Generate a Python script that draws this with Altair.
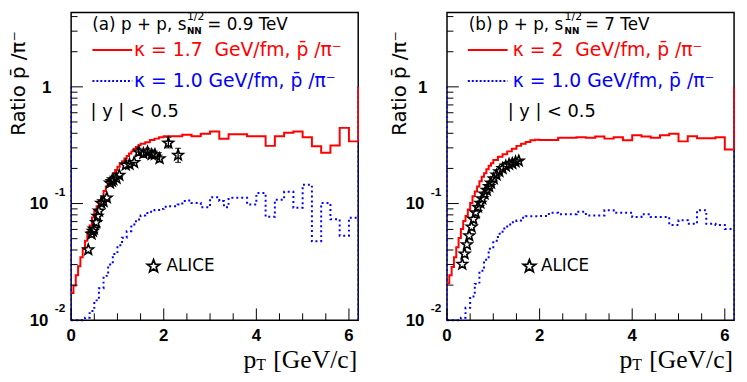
import math
import altair as alt
import pandas as pd

# ---------------- data ----------------
red_a_x = [0.00, 0.05, 0.10, 0.15, 0.20, 0.25, 0.30, 0.35, 0.40, 0.45, 0.50, 0.55, 0.60, 0.65, 0.70,
           0.75, 0.80, 0.85, 0.90, 0.95, 1.00, 1.05, 1.10, 1.15, 1.20, 1.25, 1.30, 1.35, 1.40, 1.45,
           1.50, 1.60, 1.70, 1.80, 1.90, 2.00, 2.20, 2.40, 2.60, 2.80, 3.00, 3.20, 3.40, 3.60, 3.80,
           4.00, 4.20, 4.40, 4.60, 4.80, 5.00, 5.20, 5.40, 5.60, 5.80, 6.00, 6.20]
red_a_y = [0.0171, 0.0198, 0.0243, 0.029, 0.0347, 0.041, 0.048, 0.057, 0.065, 0.076, 0.086, 0.095, 0.105,
           0.115, 0.128, 0.140, 0.155, 0.165, 0.182, 0.194, 0.207, 0.220, 0.230, 0.243, 0.256, 0.268,
           0.280, 0.295, 0.305, 0.316, 0.325, 0.335, 0.350, 0.360, 0.370, 0.378, 0.378, 0.388, 0.378,
           0.396, 0.415, 0.359, 0.392, 0.392, 0.378, 0.378, 0.312, 0.378, 0.404, 0.415, 0.370, 0.310,
           0.272, 0.315, 0.445, 0.341, 0.341]

blue_a_x = [0.0, 0.1, 0.2, 0.3, 0.4, 0.5, 0.6, 0.7, 0.8, 0.9, 1.0, 1.1, 1.2, 1.3, 1.4, 1.5, 1.6, 1.7,
            1.8, 1.9, 2.0, 2.1, 2.2, 2.3, 2.4, 2.5, 2.6, 2.7, 2.8, 2.9, 3.0, 3.1, 3.2, 3.3, 3.4, 3.6,
            3.8, 4.0, 4.2, 4.4, 4.6, 4.8, 5.0, 5.2, 5.4, 5.6, 5.8, 6.0, 6.2]
blue_a_y = [0.01, 0.01, 0.01, 0.0105, 0.012, 0.0148, 0.0188, 0.024, 0.030, 0.037, 0.044, 0.051, 0.058,
            0.066, 0.073, 0.079, 0.083, 0.085, 0.088, 0.090, 0.094, 0.095, 0.095, 0.098, 0.105, 0.106,
            0.101, 0.101, 0.093, 0.093, 0.113, 0.113, 0.105, 0.093, 0.112, 0.112, 0.098, 0.123, 0.077,
            0.108, 0.126, 0.092, 0.145, 0.0475, 0.101, 0.0734, 0.053, 0.0757, 0.0757]

red_b_x = [0.00, 0.05, 0.10, 0.15, 0.20, 0.25, 0.30, 0.35, 0.40, 0.45, 0.50, 0.55, 0.60, 0.65, 0.70,
           0.75, 0.80, 0.85, 0.90, 0.95, 1.0, 1.1, 1.2, 1.3, 1.4, 1.5, 1.6, 1.7, 1.8, 1.9, 2.0, 2.2,
           2.4, 2.6, 2.8, 3.0, 3.2, 3.4, 3.6, 3.8, 4.0, 4.2, 4.4, 4.6, 4.8, 5.0, 5.2, 5.4, 5.6, 5.8,
           6.0, 6.2]
red_b_y = [0.0207, 0.0243, 0.0286, 0.0347, 0.0422, 0.0507, 0.0604, 0.071, 0.0782, 0.089, 0.101, 0.1156,
           0.127, 0.140, 0.155, 0.170, 0.182, 0.197, 0.211, 0.221, 0.236, 0.252, 0.265, 0.280, 0.295,
           0.312, 0.326, 0.337, 0.348, 0.352, 0.350, 0.350, 0.366, 0.366, 0.370, 0.366, 0.376, 0.360,
           0.370, 0.348, 0.384, 0.376, 0.366, 0.384, 0.396, 0.341, 0.378, 0.363, 0.363, 0.370, 0.290,
           0.290]

blue_b_x = [0.0, 0.1, 0.2, 0.3, 0.4, 0.5, 0.6, 0.7, 0.8, 0.9, 1.0, 1.1, 1.2, 1.3, 1.4, 1.5, 1.6, 1.7,
            1.8, 1.9, 2.0, 2.2, 2.4, 2.6, 2.8, 3.0, 3.2, 3.4, 3.6, 3.8, 4.0, 4.2, 4.4, 4.6, 4.8, 5.0,
            5.2, 5.4, 5.6, 5.8, 6.0, 6.2]
blue_b_y = [0.01, 0.01, 0.01, 0.0105, 0.0128, 0.016, 0.0205, 0.0265, 0.033, 0.041, 0.048, 0.055, 0.061,
            0.066, 0.069, 0.0715, 0.0755, 0.078, 0.078, 0.078, 0.0782, 0.0834, 0.081, 0.081, 0.085,
            0.079, 0.079, 0.0875, 0.0834, 0.0834, 0.0767, 0.081, 0.0767, 0.0767, 0.0656, 0.072, 0.067,
            0.0875, 0.067, 0.0656, 0.0604, 0.0604]

alice_a_x = [0.37, 0.44, 0.47, 0.49, 0.54, 0.57, 0.60, 0.65, 0.70, 0.77, 0.84, 0.88, 0.91, 0.98, 1.04,
             1.18, 1.26, 1.36, 1.46, 1.56, 1.65, 1.74, 1.81, 1.91, 2.10, 2.31]
alice_a_y = [0.0402, 0.0548, 0.058, 0.0605, 0.0688, 0.078, 0.0863, 0.101, 0.104, 0.112, 0.150, 0.155,
             0.160, 0.165, 0.175, 0.214, 0.217, 0.225, 0.277, 0.268, 0.277, 0.263, 0.263, 0.243, 0.330,
             0.260]
alice_a_lo = [None] * 18 + [0.258, 0.250, 0.258, 0.246, 0.246, 0.227, 0.300, 0.225]
alice_a_hi = [None] * 18 + [0.297, 0.287, 0.297, 0.281, 0.281, 0.260, 0.370, 0.297]

alice_b_x = [0.33, 0.38, 0.43, 0.48, 0.53, 0.57, 0.62, 0.67, 0.72, 0.76, 0.81, 0.86, 0.91, 0.95, 1.01,
             1.07, 1.13, 1.20, 1.27, 1.34, 1.41, 1.48, 1.55]
alice_b_y = [0.0302, 0.0371, 0.0445, 0.053, 0.063, 0.0734, 0.0834, 0.0933, 0.101, 0.110, 0.121, 0.130,
             0.140, 0.150, 0.163, 0.176, 0.188, 0.200, 0.210, 0.217, 0.220, 0.228, 0.232]

y_major = [0.01, 0.1, 1.0]
y_minor = [0.02, 0.03, 0.04, 0.05, 0.06, 0.07, 0.08, 0.09,
           0.2, 0.3, 0.4, 0.5, 0.6, 0.7, 0.8, 0.9, 2.0, 3.0, 4.0]
x_major = [0, 2, 4, 6]
x_minor = [0.5, 1.0, 1.5, 2.5, 3.0, 3.5, 4.5, 5.0, 5.5]
x_labels = ["0", "2", "4", "6"]
y_label_vals = [1.0, 0.1, 0.01]
y_label_base = ["1", "10", "10"]
y_label_exp = ["", "-1", "-2"]

# ---------------- layout ----------------
W = 291
H = 312
XMAX = 6.2
YMAX = 4.34
ANN = "DejaVu Sans"
LAB = "Liberation Sans"
SERIF = "Liberation Serif"
RED = "#ff0000"
BLUE = "#0000ff"
NB = "\u00a0"

pts = []
for k in range(10):
    r = 1.0 if k % 2 == 0 else 0.42
    a = math.radians(36 * k)
    pts.append((r * math.sin(a), -r * math.cos(a)))
STAR = "M" + "L".join(f"{px:.3f},{py:.3f}" for px, py in pts) + "Z"

xs = alt.Scale(domain=[0, XMAX], nice=False, zero=False)
ys = alt.Scale(type="log", domain=[0.01, YMAX], nice=False)


def X(f):
    return alt.X(f, type="quantitative", scale=xs, axis=None)


def Y(f):
    return alt.Y(f, type="quantitative", scale=ys, axis=None)


def ann(x, y, s, size, color="black", align="left", baseline="middle", font=ANN, weight="normal"):
    return alt.Chart(pd.DataFrame({"x": [x], "y": [y], "t": [s]})).mark_text(
        align=align, baseline=baseline, fontSize=size, font=font, fontWeight=weight, color=color
    ).encode(x=X("x"), y=Y("y"), text="t:N")


def ann_ypx(x, ypx, s, size, align="left", baseline="alphabetic", font=ANN, weight="normal"):
    return alt.Chart(pd.DataFrame({"x": [x], "t": [s]})).mark_text(
        align=align, baseline=baseline, fontSize=size, font=font, fontWeight=weight, color="black"
    ).encode(x=X("x"), y=alt.value(ypx), text="t:N")


def panel(rx, ry, bx, by, ax, ay, alo, ahi, p):
    layers = []
    # histogram edges along the frame
    edges = pd.DataFrame({"x": [0.0, XMAX], "y1": [0.01, 0.01], "y2": [1.0, 1.0]})
    layers.append(alt.Chart(edges).mark_rule(color=BLUE, strokeWidth=1.5, strokeDash=[2, 3]).encode(
        x=X("x"), y=Y("y1"), y2="y2"))
    layers.append(alt.Chart(pd.DataFrame({"x": [XMAX], "y1": [ry[-1]], "y2": [1.0]})).mark_rule(
        color=RED, strokeWidth=1.5).encode(x=X("x"), y=Y("y1"), y2="y2"))
    # model histograms
    layers.append(alt.Chart(pd.DataFrame({"x": bx, "y": by})).mark_line(
        interpolate="step-after", color=BLUE, strokeWidth=2, strokeDash=[2, 3]).encode(x=X("x"), y=Y("y")))
    layers.append(alt.Chart(pd.DataFrame({"x": rx, "y": ry})).mark_line(
        interpolate="step-after", color=RED, strokeWidth=2).encode(x=X("x"), y=Y("y")))
    # inward ticks
    layers.append(alt.Chart(pd.DataFrame({"v": y_major})).mark_rule(color="black", strokeWidth=1).encode(
        y=Y("v"), x=alt.value(0), x2=alt.value(12)))
    layers.append(alt.Chart(pd.DataFrame({"v": y_minor})).mark_rule(color="black", strokeWidth=1).encode(
        y=Y("v"), x=alt.value(0), x2=alt.value(6.5)))
    layers.append(alt.Chart(pd.DataFrame({"v": x_major})).mark_rule(color="black", strokeWidth=1).encode(
        x=X("v"), y=alt.value(H), y2=alt.value(H - 12)))
    layers.append(alt.Chart(pd.DataFrame({"v": x_minor})).mark_rule(color="black", strokeWidth=1).encode(
        x=X("v"), y=alt.value(H), y2=alt.value(H - 7)))
    # ALICE data
    if alo is not None:
        err = pd.DataFrame({"x": ax, "lo": alo, "hi": ahi}).dropna()
        layers.append(alt.Chart(err).mark_rule(color="black", strokeWidth=1.3).encode(
            x=X("x"), y=Y("lo"), y2="hi"))
        for col in ["lo", "hi"]:
            layers.append(alt.Chart(err).mark_tick(orient="horizontal", size=6, thickness=1.3,
                                                   color="black").encode(x=X("x"), y=Y(col)))
    layers.append(alt.Chart(pd.DataFrame({"x": ax, "y": ay})).mark_point(
        shape=STAR, filled=False, color="black", strokeWidth=1.6, size=125, opacity=1).encode(
        x=X("x"), y=Y("y")))
    # legend / labels inside the frame
    layers.append(alt.Chart(pd.DataFrame({"x": [1.78], "y": [0.029]})).mark_point(
        shape=STAR, filled=False, color="black", strokeWidth=1.8, size=180, opacity=1).encode(
        x=X("x"), y=Y("y")))
    layers.append(ann(p["alice_x"], 0.029, "ALICE", 17))
    layers.append(ann(p["t0"], 3.38, p["title"], 17))
    layers.append(ann(p["t1"], 3.95, "1/2", 11))
    layers.append(ann(p["t1"], 2.98, "NN", 9, weight="bold"))
    layers.append(ann(p["t2"], 3.38, p["title2"], 17))
    seg = pd.DataFrame({"x1": [p["l0"]], "x2": [p["l1"]], "y": [2.07]})
    layers.append(alt.Chart(seg).mark_rule(color=RED, strokeWidth=2).encode(x=X("x1"), x2="x2", y=Y("y")))
    seg2 = pd.DataFrame({"x1": [p["l0"]], "x2": [p["l1"]], "y": [1.12]})
    layers.append(alt.Chart(seg2).mark_rule(color=BLUE, strokeWidth=2, strokeDash=[2, 2]).encode(
        x=X("x1"), x2="x2", y=Y("y")))
    layers.append(ann(p["lt"], 2.07, p["red_txt"], 19, color=RED))
    layers.append(ann(p["lt"], 1.12, "\u03ba = 1.0 GeV/fm, p\u0304 /\u03c0\u207b", 19, color=BLUE))
    layers.append(ann(p["yx"], 0.604, "| y | < 0.5", 18))
    # axis labels
    lab = pd.DataFrame({"v": y_label_vals, "b": y_label_base, "e": y_label_exp})
    one = lab[lab["e"] == ""]
    ten = lab[lab["e"] != ""]
    layers.append(alt.Chart(one).mark_text(align="right", baseline="middle", font=LAB, fontWeight="bold",
                                           fontSize=17, dy=1).encode(x=alt.value(-20), y=Y("v"), text="b:N"))
    layers.append(alt.Chart(ten).mark_text(align="right", baseline="middle", font=LAB, fontWeight="bold",
                                           fontSize=17, dy=1).encode(x=alt.value(-23), y=Y("v"), text="b:N"))
    layers.append(alt.Chart(ten).mark_text(align="left", baseline="middle", font=LAB, fontWeight="bold",
                                           fontSize=12, dy=-12).encode(x=alt.value(-16.5), y=Y("v"), text="e:N"))
    xl = pd.DataFrame({"v": x_major, "t": x_labels})
    layers.append(alt.Chart(xl).mark_text(align="center", baseline="middle", font=LAB, fontWeight="bold",
                                          fontSize=17).encode(x=X("v"), y=alt.value(H + 16), text="t:N"))
    # axis titles
    layers.append(ann_ypx(4.0, H + 48, "p", 26, align="right", font=SERIF))
    layers.append(ann_ypx(4.0, H + 50, "T", 16, align="left", font=SERIF))
    layers.append(ann_ypx(6.18, H + 48, "[GeV/c]", 26, align="right", font=SERIF))
    layers.append(alt.Chart(pd.DataFrame({"t": ["Ratio p\u0304 /\u03c0\u207b"]})).mark_text(
        align="right", baseline="top", angle=270, fontSize=20, font=ANN, color="black").encode(
        x=alt.value(p["ytx"]), y=alt.value(19), text="t:N"))
    return alt.layer(*layers).properties(width=W, height=H)


pa = panel(red_a_x, red_a_y, blue_a_x, blue_a_y, alice_a_x, alice_a_y, alice_a_lo, alice_a_hi,
           {"title": "(a) p + p, s", "title2": "= 0.9 TeV", "t0": 0.457, "t1": 2.50, "t2": 2.94,
            "l0": 0.46, "l1": 1.32, "lt": 1.36,
            "red_txt": "\u03ba = 1.7" + NB + NB + "GeV/fm, p\u0304 /\u03c0\u207b",
            "yx": 0.42, "alice_x": 2.06, "ytx": -63})
pb = panel(red_b_x, red_b_y, blue_b_x, blue_b_y, alice_b_x, alice_b_y, None, None,
           {"title": "(b) p + p, s", "title2": "= 7 TeV", "t0": 0.47, "t1": 2.54, "t2": 2.98,
            "l0": 0.45, "l1": 1.31, "lt": 1.42,
            "red_txt": "\u03ba = 2" + NB + NB + "GeV/fm, p\u0304 /\u03c0\u207b",
            "yx": 1.31, "alice_x": 2.03, "ytx": -57.7})

chart = alt.hconcat(pa, pb, spacing=26).properties(padding=0).configure_view(
    stroke="black", strokeWidth=1.5)

chart.save("out.html", embed_options={"renderer": "svg", "actions": False})
